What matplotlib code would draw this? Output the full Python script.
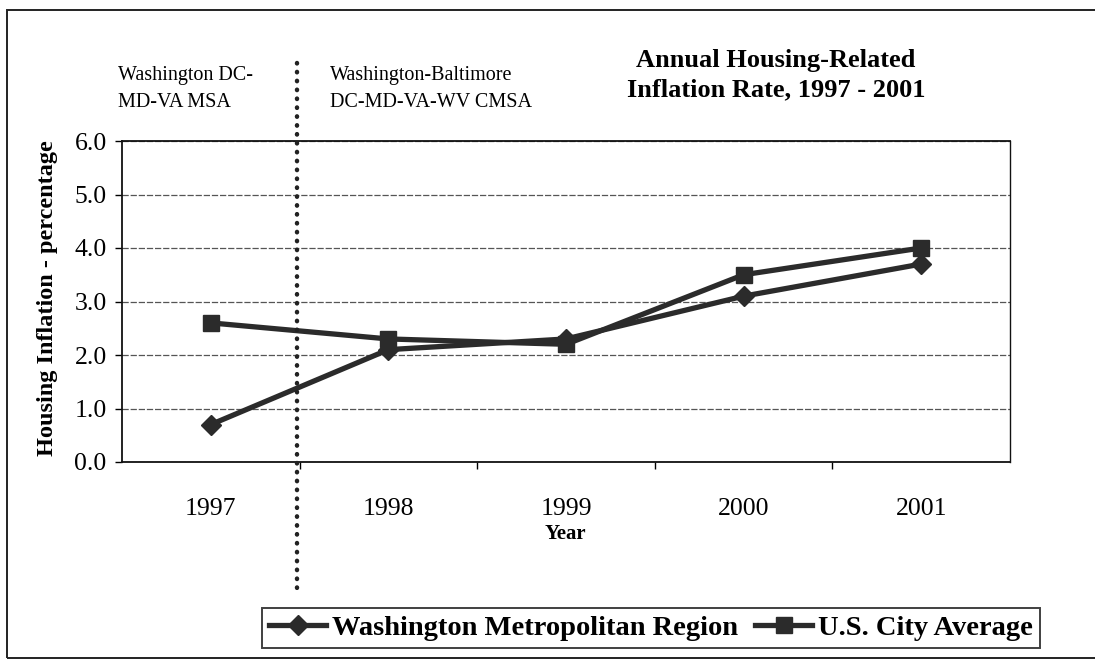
import matplotlib
matplotlib.use("Agg")
import matplotlib.pyplot as plt
from matplotlib.lines import Line2D
from matplotlib.patches import Rectangle

plt.rcParams['font.family'] = ['Liberation Serif', 'DejaVu Serif']

years = ['1997', '1998', '1999', '2000', '2001']
washington = [0.7, 2.1, 2.3, 3.1, 3.7]
us_average = [2.6, 2.3, 2.2, 3.5, 4.0]
series_names = ['Washington Metropolitan Region', 'U.S. City Average']
y_ticks = [0.0, 1.0, 2.0, 3.0, 4.0, 5.0, 6.0]

W, H = 1095, 669
fig = plt.figure(figsize=(W / 100, H / 100), dpi=100)
fig.patch.set_facecolor('white')

def fx(px):
    return px / W

def fy(py):
    return 1 - py / H

# outer border of the scanned chart
fig.add_artist(Rectangle((fx(7), fy(658)), fx(1095) - fx(7) + 0.01, fy(10) - fy(658),
                         transform=fig.transFigure, fill=False, edgecolor='#222222',
                         linewidth=1.4, clip_on=False))

ax = fig.add_axes([fx(122), fy(462), fx(1010) - fx(122), fy(141) - fy(462)])
x = list(range(len(years)))
line_color = '#2b2b2b'
ax.plot(x, washington, color=line_color, linewidth=3.8, marker='D', markersize=10,
        markerfacecolor=line_color, markeredgecolor=line_color, label=series_names[0], zorder=3)
ax.plot(x, us_average, color=line_color, linewidth=3.8, marker='s', markersize=11,
        markerfacecolor=line_color, markeredgecolor=line_color, label=series_names[1], zorder=3)

ax.set_xlim(-0.5, len(years) - 0.5)
ax.set_ylim(0, 6)
ax.set_yticks(y_ticks)
ax.set_yticklabels([f'{v:.1f}' for v in y_ticks], fontsize=18.5)
ax.set_xticks(x)
ax.set_xticklabels(years, fontsize=18.5)
ax.set_xticks([i + 0.5 for i in range(len(years) - 1)], minor=True)
ax.tick_params(axis='x', which='major', length=0, pad=26)
ax.tick_params(axis='x', which='minor', length=5, width=1, direction='out')
ax.tick_params(axis='y', which='major', length=5, width=1, direction='out', pad=6)
ax.yaxis.grid(True, color='#555555', linewidth=0.9, linestyle=(0, (5, 1.5)))
ax.set_axisbelow(True)
for side in ['left', 'bottom', 'top', 'right']:
    ax.spines[side].set_color('#111111')
    ax.spines[side].set_linewidth(1.3)
ax.spines['right'].set_linewidth(1.0)

fig.text(fx(48), fy(298), 'Housing Inflation - percentage', rotation=90,
         ha='center', va='center', fontsize=17.5, fontweight='bold')
fig.text(fx(565), fy(534), 'Year', ha='center', va='center', fontsize=15, fontweight='bold')

fig.text(fx(776), fy(75), 'Annual Housing-Related\nInflation Rate, 1997 - 2001',
         ha='center', va='center', fontsize=19, fontweight='bold', linespacing=1.38)
fig.text(fx(118), fy(89), 'Washington DC-\nMD-VA MSA', ha='left', va='center',
         fontsize=14.5, linespacing=1.6)
fig.text(fx(330), fy(89), 'Washington-Baltimore\nDC-MD-VA-WV CMSA', ha='left', va='center',
         fontsize=14.5, linespacing=1.6)

# dotted separator between the two region definitions
fig.add_artist(Line2D([fx(297), fx(297)], [fy(63), fy(592)], transform=fig.transFigure,
                      color='#222222', linewidth=3.2, linestyle=(0, (0.1, 1.9)),
                      solid_capstyle='round', dash_capstyle='round', zorder=5))

leg = fig.legend(loc='center', bbox_to_anchor=(fx(651), fy(628)), ncol=2,
                 prop={'size': 20.5, 'weight': 'bold'}, frameon=True, fancybox=False,
                 edgecolor='#111111', handlelength=2.0, handletextpad=0.2,
                 columnspacing=0.6, borderpad=0.25, borderaxespad=0)
leg.get_frame().set_linewidth(1.4)

fig.savefig('out.png', dpi=100, facecolor='white')
